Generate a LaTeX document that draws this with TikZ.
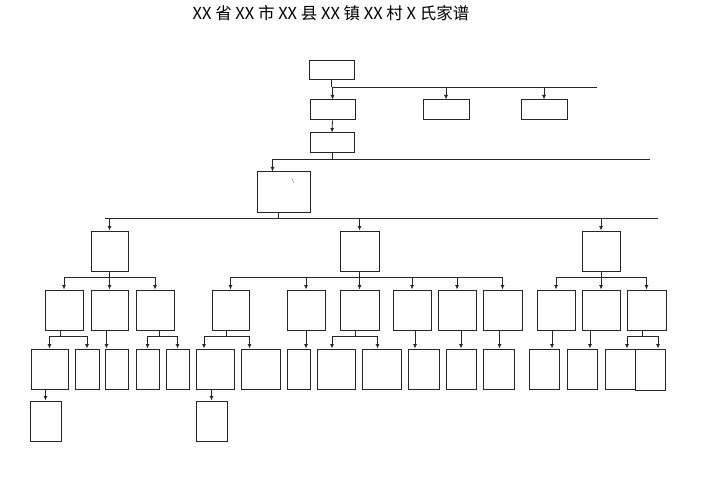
\documentclass[tikz,border=0pt]{standalone}
\usepackage{fontspec}
\newfontfamily\cjk{Noto Sans CJK SC}
\usetikzlibrary{arrows.meta}
\tikzset{
  bx/.style={draw=black!85,line width=1pt,inner sep=0pt,rectangle},
  ln/.style={draw=black!85,line width=0.8pt},
  arr/.style={ln,-{Latex[length=4.5pt,width=4pt]}}
}
\newcommand\bx[5]{\node[bx,minimum width={(#4-#2)*1pt},minimum height={(#5-#3)*1pt}] (#1) at ({(#2+#4)/2},{(#3+#5)/2}) {};}
\newcommand\drop[2]{\draw[arr] (#2.north |- 0,#1) -- (#2.north);}
\newcommand\bus[4]{\draw[ln] (#1.south) -- (#1.south |- 0,#2); \draw[ln] (#3 |- 0,#2) -- (#4 |- 0,#2);}
\begin{document}
\begin{tikzpicture}[x=1pt,y=-1pt]
\useasboundingbox (0,0) rectangle (707,500);
\node (title) at (331,13) {\cjk\fontsize{16.5pt}{18pt}\selectfont XX 省 XX 市 XX 县 XX 镇 XX 村 X 氏家谱};
% top
\bx{t}{309}{61}{354}{80}
\bx{a}{310}{100}{355}{120}
\bx{b}{423}{100}{469}{120}
\bx{c}{521}{100}{567}{120}
\coordinate (e1) at (597,87);
\bus{t}{87}{t.south}{e1}
\drop{87}{a}\drop{87}{b}\drop{87}{c}
\bx{d}{310}{133}{354}{153}
\draw[arr] (a.south) -- (d.north);
\bx{g}{257}{172}{310}{212}
\node[font=\tiny,inner sep=0pt] (bs) at (293,181) {\textbackslash};
\coordinate (e2) at (650,159);
\draw[ln] (d.south) -- (d.south |- 0,159);
\draw[ln] ([xshift=-11pt]g.north |- 0,159) -- (e2);
\draw[arr] ([xshift=-11pt]g.north |- 0,159) -- ([xshift=-11pt]g.north);
% gen 5
\bx{L}{91}{231}{128}{271}
\bx{M}{340}{231}{379}{271}
\bx{R}{582}{231}{620}{271}
\coordinate (e3a) at (105,218);
\coordinate (e3b) at (658,218);
\draw[ln] ([xshift=-5pt]g.south) -- ([xshift=-5pt]g.south |- 0,218);
\draw[ln] (e3a) -- (e3b);
\draw[arr] (L.north |- 0,218) -- (L.north);
\drop{218}{M}\drop{218}{R}
% gen 6
\bx{L1}{45}{290}{83}{330}
\bx{L2}{91}{290}{128}{330}
\bx{L3}{136}{290}{174}{330}
\bus{L}{277}{L1.north}{L3.north}
\drop{277}{L1}\drop{277}{L2}\drop{277}{L3}
\bx{M1}{212}{290}{249}{330}
\bx{M2}{287}{290}{325}{330}
\bx{M3}{340}{290}{379}{330}
\bx{M4}{393}{290}{431}{330}
\bx{M5}{438}{290}{476}{330}
\bx{M6}{483}{290}{522}{330}
\bus{M}{277}{M1.north}{M6.north}
\drop{277}{M1}\drop{277}{M2}\drop{277}{M3}\drop{277}{M4}\drop{277}{M5}\drop{277}{M6}
\bx{R1}{537}{290}{575}{330}
\bx{R2}{582}{290}{620}{330}
\bx{R3}{627}{290}{666}{330}
\bus{R}{277}{R1.north}{R3.north}
\drop{277}{R1}\drop{277}{R2}\drop{277}{R3}
% gen 7
\bx{A1}{31}{349}{68}{389}
\bx{A2}{75}{349}{99}{389}
\draw[ln] ([xshift=-4pt]L1.south) -- ([xshift=-4pt]L1.south |- 0,336);
\draw[ln] (A1.north |- 0,336) -- (A2.north |- 0,336);
\drop{336}{A1}\drop{336}{A2}
\bx{B1}{105}{349}{128}{389}
\draw[arr] ([xshift=-3pt]L2.south) -- ([xshift=-3pt]L2.south |- B1.north);
\bx{C1}{136}{349}{159}{389}
\bx{C2}{166}{349}{189}{389}
\draw[ln] ([xshift=4pt]L3.south) -- ([xshift=4pt]L3.south |- 0,336);
\draw[ln] (C1.north |- 0,336) -- (C2.north |- 0,336);
\drop{336}{C1}\drop{336}{C2}
\bx{D1}{196}{349}{234}{389}
\bx{D2}{241}{349}{280}{389}
\draw[ln] ([xshift=-4pt]M1.south) -- ([xshift=-4pt]M1.south |- 0,336);
\draw[ln] ([xshift=-11pt]D1.north |- 0,336) -- ([xshift=-11pt]D2.north |- 0,336);
\draw[arr] ([xshift=-11pt]D1.north |- 0,336) -- ([xshift=-11pt]D1.north);
\draw[arr] ([xshift=-11pt]D2.north |- 0,336) -- ([xshift=-11pt]D2.north);
\bx{E1}{287}{349}{310}{389}
\draw[arr] (M2.south) -- (M2.south |- E1.north);
\bx{F1}{317}{349}{355}{389}
\bx{F2}{362}{349}{401}{389}
\draw[ln] ([xshift=-4pt]M3.south) -- ([xshift=-4pt]M3.south |- 0,336);
\draw[ln] ([xshift=-4pt]F1.north |- 0,336) -- ([xshift=-4pt]F2.north |- 0,336);
\draw[arr] ([xshift=-4pt]F1.north |- 0,336) -- ([xshift=-4pt]F1.north);
\draw[arr] ([xshift=-4pt]F2.north |- 0,336) -- ([xshift=-4pt]F2.north);
\bx{G1}{408}{349}{439}{389}
\draw[arr] ([xshift=3pt]M4.south) -- ([xshift=3pt]M4.south |- G1.north);
\bx{H1}{446}{349}{476}{389}
\draw[arr] ([xshift=4pt]M5.south) -- ([xshift=4pt]M5.south |- H1.north);
\bx{I1}{483}{349}{514}{389}
\draw[arr] ([xshift=-3pt]M6.south) -- ([xshift=-3pt]M6.south |- I1.north);
\bx{J1}{529}{349}{559}{389}
\draw[arr] ([xshift=-4pt]R1.south) -- ([xshift=-4pt]R1.south |- J1.north);
\bx{K1}{567}{349}{597}{389}
\draw[arr] ([xshift=-11pt]R2.south) -- ([xshift=-11pt]R2.south |- K1.north);
\bx{N1}{605}{349}{635}{389}
\bx{N2}{635}{349}{665}{390}
\draw[ln] ([xshift=-4pt]R3.south) -- ([xshift=-4pt]R3.south |- 0,336);
\draw[ln] ([xshift=7pt]N1.north |- 0,336) -- ([xshift=8pt]N2.north |- 0,336);
\draw[arr] ([xshift=7pt]N1.north |- 0,336) -- ([xshift=7pt]N1.north);
\draw[arr] ([xshift=8pt]N2.north |- 0,336) -- ([xshift=8pt]N2.north);
% gen 8
\bx{P1}{30}{401}{61}{441}
\draw[arr] (A1.south -| P1.north) -- (P1.north);
\bx{Q1}{196}{401}{227}{441}
\draw[arr] (D1.south -| Q1.north) -- (Q1.north);
\end{tikzpicture}
\end{document}
